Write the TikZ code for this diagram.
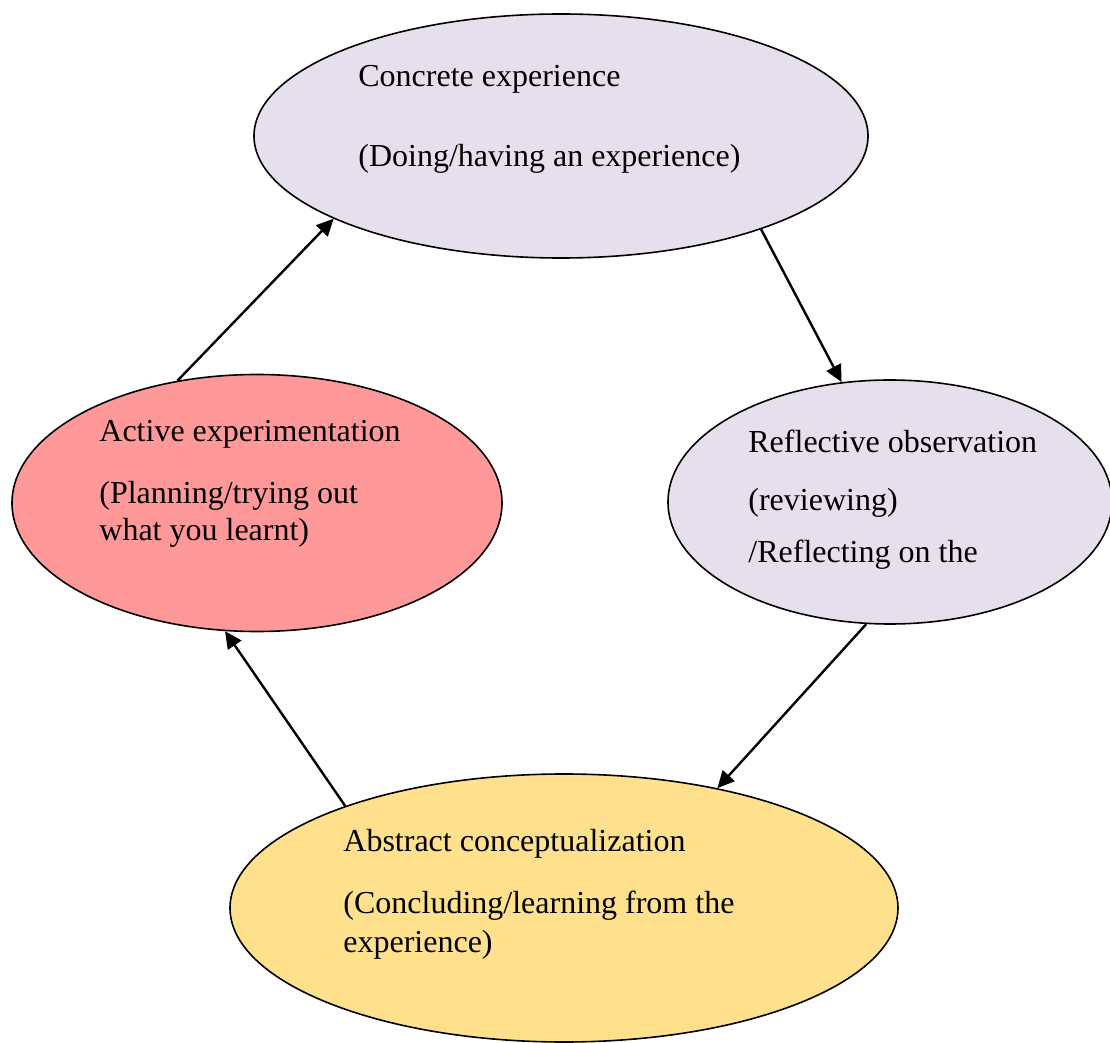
\documentclass[tikz,border=0pt]{standalone}
\usepackage{fontspec}
\setmainfont{Liberation Serif}
\usepackage{xcolor}
\usepackage{tikz}
\usetikzlibrary{arrows.meta,shapes.geometric}

\definecolor{lavender}{HTML}{E6E0EC}
\definecolor{salmon}{HTML}{FF9999}
\definecolor{sand}{HTML}{FFE08C}

\tikzset{
  stage/.style={ellipse,draw=black,line width=0.8pt,inner sep=0pt},
  line/.style={anchor=base west,inner sep=0pt,font=\fontsize{16pt}{18pt}\selectfont},
  flow/.style={line width=1.2pt,-{Triangle[length=8.5pt,width=8pt]}}
}

\begin{document}
\begin{tikzpicture}[x=0.5pt,y=-0.5pt]
\useasboundingbox (0,0) rectangle (1110,1043);
%the four stages
\node[stage,fill=lavender,minimum width=307pt,minimum height=122pt] (concrete) at (561,136) {};
\node[stage,fill=lavender,minimum width=222pt,minimum height=122pt] (reflective) at (890,502) {};
\node[stage,fill=salmon,minimum width=245pt,minimum height=128.5pt] (active) at (257,503) {};
\node[stage,fill=sand,minimum width=334pt,minimum height=134pt] (abstract) at (564,908) {};
%texts
\node[line] (c1) at (358,87) {Concrete experience};
\node[line] (c2) at (358,167) {(Doing/having an experience)};
\node[line] (r1) at (748,453) {Reflective observation};
\node[line] (r2) at (748,510) {(reviewing)};
\node[line] (r3) at (748,563) {/Reflecting on the};
\node[line] (a1) at (99,442) {Active experimentation};
\node[line] (a2) at (99,504) {(Planning/trying out};
\node[line] (a3) at (99,540) {what you learnt)};
\node[line] (b1) at (343,851) {Abstract conceptualization};
\node[line] (b2) at (343,913) {(Concluding/learning from the};
\node[line] (b3) at (343,952) {experience)};
%cycle
\draw[flow] (active.123.6) -- (concrete.200);
\draw[flow] (concrete.335.3) -- (reflective.112);
\draw[flow] (reflective.259.9) -- (abstract.38.4);
\draw[flow] (abstract.155.6) -- (active.256.9);
\end{tikzpicture}
\end{document}
